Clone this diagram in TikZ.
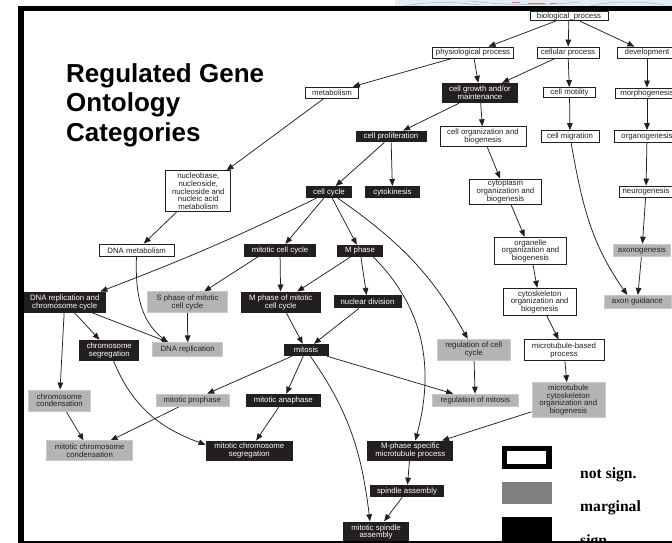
\documentclass[tikz,border=0pt]{standalone}
\usepackage{fontspec}
\setmainfont{Liberation Sans}
\newfontfamily\legserif{Liberation Serif}
\usetikzlibrary{arrows.meta}
\definecolor{ink}{RGB}{35,31,32}
\definecolor{gfill}{RGB}{180,180,180}
\definecolor{gedge}{RGB}{200,200,200}
\definecolor{lgray}{RGB}{128,128,128}
\definecolor{deco}{RGB}{226,236,246}
\definecolor{decoline}{RGB}{150,185,215}
\definecolor{decored}{RGB}{225,120,90}
\pgfdeclarelayer{bg}
\pgfsetlayers{bg,main}
\tikzset{
  gobox/.style={inner sep=0pt, align=center, font=\fontsize{7.8}{7.6}\selectfont},
  wb/.style={gobox, draw=ink, line width=0.8pt, fill=white, text=ink},
  gb/.style={gobox, fill=gfill, draw=gedge, line width=0.5pt, text=ink},
  bb/.style={gobox, fill=ink, text=white},
  arr/.style={draw=ink, line width=0.75pt, -{Triangle[length=7pt,width=5.6pt]}},
  ttl/.style={inner sep=0pt, anchor=base west, text=black, font=\fontsize{26}{30}\selectfont\bfseries},
  legt/.style={inner sep=0pt, anchor=base west, text=black, font=\legserif\fontsize{15.6}{18}\selectfont\bfseries},
}
\begin{document}
\begin{tikzpicture}[x=1pt,y=1pt]
\useasboundingbox (0,0) rectangle (672,-543);
\clip (0,0) rectangle (672,-543);
% top-right decoration
\fill[deco] (395,0) rectangle (672,-6);
\draw[decoline, line width=0.5pt] (405,-6) .. controls (430,-1) and (455,-2) .. (480,-5);
\draw[decoline, line width=0.5pt] (470,-1) .. controls (500,-5) and (540,-6) .. (580,-2);
\draw[decoline, line width=0.5pt] (590,-6) .. controls (610,-1) and (640,-1) .. (665,-5);
\draw[decored, line width=0.6pt] (512,-2.5) -- (520,-2.5) (528,-3) -- (545,-3) (550,-3) -- (556,-3);

% title
\node[ttl] (t1) at (66,-82) {Regulated Gene};
\node[ttl] (t2) at (66,-111.5) {Ontology};
\node[ttl] (t3) at (66,-141) {Categories};

% white boxes
\node[wb, minimum width=78pt, minimum height=9.5pt] (bp) at (569,-16) {biological\_process};
\node[wb, minimum width=81pt, minimum height=11pt] (pp) at (473,-52.5) {physiological process};
\node[wb, minimum width=62pt, minimum height=11pt] (cp) at (568,-52.5) {cellular process};
\node[wb, minimum width=60pt, minimum height=11pt] (dev) at (647,-52.5) {development};
\node[wb, minimum width=53pt, minimum height=11pt] (met) at (332,-92.5) {metabolism};
\node[wb, minimum width=52pt, minimum height=10pt] (cmot) at (569.5,-92.5) {cell motility};
\node[wb, minimum width=64pt, minimum height=10pt] (morph) at (647,-93) {morphogenesis};
\node[wb, minimum width=86pt, minimum height=20pt] (cob) at (483,-136.7) {cell organization and\\biogenesis};
\node[wb, minimum width=58pt, minimum height=12pt] (cmig) at (570,-136.5) {cell migration};
\node[wb, minimum width=66pt, minimum height=12pt] (org) at (647,-136.5) {organogenesis};
\node[wb, minimum width=65pt, minimum height=41pt] (nb) at (198.3,-191.3) {nucleobase,\\nucleoside,\\nucleoside and\\nucleic acid\\metabolism};
\node[wb, minimum width=72pt, minimum height=25pt] (cyto) at (505.5,-191.5) {cytoplasm\\organization and\\biogenesis};
\node[wb, minimum width=54pt, minimum height=11pt] (neuro) at (646,-191.5) {neurogenesis};
\node[wb, minimum width=75pt, minimum height=12.7pt] (dm) at (136.7,-250.3) {DNA metabolism};
\node[wb, minimum width=72pt, minimum height=27pt] (org2) at (530.5,-250.7) {organelle\\organization and\\biogenesis};
\node[wb, minimum width=73pt, minimum height=27pt] (csk) at (539.7,-301.7) {cytoskeleton\\organization and\\biogenesis};
\node[wb, minimum width=80pt, minimum height=21pt] (mtb) at (564,-350.3) {microtubule-based\\process};

% gray boxes
\node[gb, minimum width=57pt, minimum height=12.7pt] (axo) at (642,-250.3) {axonogenesis};
\node[gb, minimum width=67pt, minimum height=13pt] (axg) at (637.3,-301.7) {axon guidance};
\node[gb, minimum width=80pt, minimum height=21pt] (sph) at (187.5,-302.2) {S phase of mitotic\\cell cycle};
\node[gb, minimum width=70pt, minimum height=14pt] (dnar) at (187.7,-349.7) {DNA replication};
\node[gb, minimum width=73pt, minimum height=21pt] (rcc) at (473.7,-349.7) {regulation of cell\\cycle};
\node[gb, minimum width=62pt, minimum height=21pt] (ccond) at (59.5,-400.3) {chromosome\\condensation};
\node[gb, minimum width=73pt, minimum height=12.7pt] (proph) at (192.3,-400.3) {mitotic prophase};
\node[gb, minimum width=86pt, minimum height=12.7pt] (rom) at (475.3,-400.3) {regulation of mitosis};
\node[gb, minimum width=73pt, minimum height=35pt] (mtc) at (568.3,-400) {microtubule\\cytoskeleton\\organization and\\biogenesis};
\node[gb, minimum width=86pt, minimum height=20pt] (mcc) at (89.7,-450.7) {mitotic chromosome\\condensation};

% black boxes
\node[bb, minimum width=76pt, minimum height=20pt] (cg) at (480,-93) {cell growth and/or\\maintenance};
\node[bb, minimum width=71pt, minimum height=11.5pt] (cpro) at (391,-136.5) {cell proliferation};
\node[bb, minimum width=46pt, minimum height=11.5pt] (cc) at (329,-192) {cell cycle};
\node[bb, minimum width=55pt, minimum height=11.5pt] (cyk) at (392.5,-192) {cytokinesis};
\node[bb, minimum width=72pt, minimum height=12.5pt] (mcyc) at (280,-250.3) {mitotic cell cycle};
\node[bb, minimum width=46pt, minimum height=11.7pt] (mph) at (360,-250.8) {M phase};
\node[bb, minimum width=83pt, minimum height=21pt] (drc) at (64.7,-302.2) {DNA replication and\\chromosome cycle};
\node[bb, minimum width=80pt, minimum height=21pt] (mpmcc) at (280.7,-302.2) {M phase of mitotic\\cell cycle};
\node[bb, minimum width=68pt, minimum height=13pt] (nd) at (367.5,-301.7) {nuclear division};
\node[bb, minimum width=60pt, minimum height=20.7pt] (cseg) at (109.3,-350.3) {chromosome\\segregation};
\node[bb, minimum width=45pt, minimum height=12pt] (mit) at (306,-350) {mitosis};
\node[bb, minimum width=75pt, minimum height=12.7pt] (ana) at (283.3,-400.3) {mitotic anaphase};
\node[bb, minimum width=87pt, minimum height=20pt] (mcs) at (249.3,-450.7) {mitotic chromosome\\segregation};
\node[bb, minimum width=86pt, minimum height=20pt] (mps) at (410.3,-450.7) {M-phase specific\\microtubule process};
\node[bb, minimum width=74pt, minimum height=12.3pt] (sa) at (407,-491) {spindle assembly};
\node[bb, minimum width=66pt, minimum height=21pt] (msa) at (376,-532) {mitotic spindle\\assembly};

% connectors
\begin{pgfonlayer}{bg}
\draw[arr] (bp) -- (pp);
\draw[arr] (bp) -- (cp);
\draw[arr] (bp) -- (dev);
\draw[arr] (pp) -- (met);
\draw[arr] (pp) -- (cg);
\draw[arr] (cp) -- (cg);
\draw[arr] (cp) -- (cmot);
\draw[arr] (dev) -- (morph);
\draw[arr] (cmot) -- (cmig);
\draw[arr] (morph) -- (org);
\draw[arr] (org) -- (neuro);
\draw[arr] (neuro) -- (axo);
\draw[arr] (axo) -- (axg);
\draw[arr] (cmig) to[out=-80,in=125] ([xshift=-10pt]axg.north);
\draw[arr] (met) -- (nb);
\draw[arr] (cg) -- (cpro);
\draw[arr] (cg) -- (cob);
\draw[arr] (cob) -- (cyto);
\draw[arr] (cyto) -- (org2);
\draw[arr] (org2) -- (csk);
\draw[arr] (csk) -- (mtb);
\draw[arr] (mtb) -- (mtc);
\draw[arr] (mtc) -- (mps);
\draw[arr] (cpro) -- (cc);
\draw[arr] (cpro) -- (cyk);
\draw[arr] (nb) -- (dm);
\draw[arr] (cc) to[out=206,in=21] ([xshift=-6pt]drc.north east);
\draw[arr] (cc) -- (mcyc);
\draw[arr] (cc) -- (mph);
\draw[arr] (cc) to[out=-35,in=119] (rcc);
\draw[arr] (dm) to[out=-92,in=141] ([xshift=-20pt]dnar.north);
\draw[arr] ([xshift=-22pt]mcyc.south) -- (sph);
\draw[arr] (mcyc) -- (mpmcc);
\draw[arr] (mph) -- (mpmcc);
\draw[arr] (mph) -- (nd);
\draw[arr] ([xshift=-10pt]mph.south east) to[out=-45,in=75] ([xshift=5pt]mps.north);
\draw[arr] (drc) -- (cseg);
\draw[arr] (drc) -- (dnar);
\draw[arr] (drc) -- (ccond);
\draw[arr] (sph) -- (dnar);
\draw[arr] (mpmcc) -- (mit);
\draw[arr] (nd) -- (mit);
\draw[arr] (cseg) to[out=-68,in=160] ([yshift=6pt]mcs.west);
\draw[arr] (ccond) -- (mcc);
\draw[arr] (proph) -- (mcc);
\draw[arr] (ana) -- (mcs);
\draw[arr] (mit) -- (proph);
\draw[arr] (mit) -- (ana);
\draw[arr] (mit) -- (rom);
\draw[arr] (mit) to[out=-55,in=97] ([xshift=-6pt]msa.north);
\draw[arr] (rcc) -- (rom);
\draw[arr] (mps) -- (sa);
\draw[arr] (sa) -- (msa);
\end{pgfonlayer}

% legend
\node[draw=black, line width=5.5pt, fill=white, inner sep=0pt, minimum width=44.2pt, minimum height=17.8pt] (lw) at (526.8,-457.6) {};
\node[fill=lgray, inner sep=0pt, minimum width=49.4pt, minimum height=22.3pt] (lg) at (527,-492.9) {};
\node[fill=black, inner sep=0pt, minimum width=49.7pt, minimum height=26pt] (lb) at (526.9,-530.3) {};
\node[legt] (ln) at (580,-478.3) {not sign.};
\node[legt] (lm) at (580,-511.7) {marginal};
\node[legt] (ls) at (580,-545) {sign.};

% frame
\fill[black] (18,-6) rectangle (672,-11.5);
\fill[black] (18,-6) rectangle (23.5,-543);
\fill[black] (18,-540.5) rectangle (672,-543);
\end{tikzpicture}
\end{document}
